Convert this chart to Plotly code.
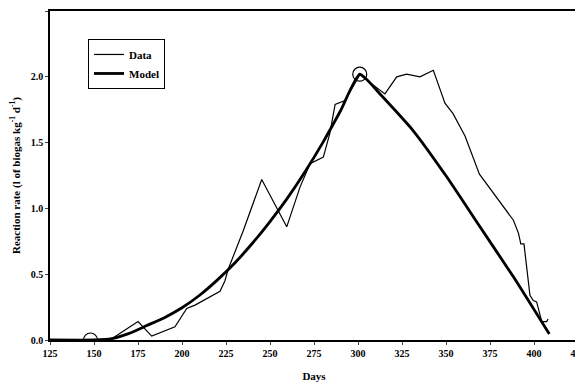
import plotly.graph_objects as go

data_days = [125, 159, 175, 182.8, 196, 202.7, 207.4, 221.6, 224.4, 226.3, 234.8, 245.3, 259.5, 267,
             272.7, 280.3, 284, 287, 292.6, 301, 315.3, 322, 327.6, 335.2, 342.8, 349.4, 354, 360.8,
             369, 388.3, 391.2, 392.5, 394.3, 397.7, 399.6, 401.5, 404.4, 407.2, 408]
data_rate = [0.0, 0.0, 0.14, 0.03, 0.10, 0.24, 0.265, 0.37, 0.45, 0.54, 0.83, 1.22, 0.86, 1.16,
             1.34, 1.39, 1.57, 1.79, 1.82, 2.015, 1.87, 2.0, 2.02, 2.0, 2.05, 1.80, 1.72, 1.55,
             1.26, 0.91, 0.81, 0.73, 0.73, 0.34, 0.30, 0.29, 0.14, 0.14, 0.16]

model_days = [125, 150, 160, 170, 180, 190, 200, 210, 220, 230, 240, 250, 260, 270, 280, 290, 301,
              312.5, 331.4, 350.4, 369.3, 388.3, 408.7]
model_rate = [0.0, 0.0, 0.01, 0.05, 0.11, 0.17, 0.245, 0.34, 0.455, 0.585, 0.735, 0.90, 1.08, 1.28, 1.50,
              1.74, 2.02, 1.87, 1.59, 1.24, 0.86, 0.48, 0.045]

circle_days = [148, 301]
circle_rate = [0.0, 2.02]

x_ticks = [125, 150, 175, 200, 225, 250, 275, 300, 325, 350, 375, 400, 425]
y_ticks = [0.0, 0.5, 1.0, 1.5, 2.0, 2.5]

font_family = "Liberation Serif"

fig = go.Figure()
fig.add_trace(go.Scatter(x=data_days, y=data_rate, mode="lines", name="Data",
                         line=dict(color="black", width=1.2)))
fig.add_trace(go.Scatter(x=model_days, y=model_rate, mode="lines", name="Model",
                         line=dict(color="black", width=2.8, shape="spline", smoothing=0.5)))
fig.add_trace(go.Scatter(x=circle_days, y=circle_rate, mode="markers", showlegend=False,
                         marker=dict(symbol="circle-open", size=14, color="black",
                                     line=dict(width=1.2, color="black"))))

fig.update_layout(
    width=583, height=385,
    margin=dict(l=42, r=13, t=3, b=53),
    paper_bgcolor="white", plot_bgcolor="white",
    font=dict(family=font_family, color="black", size=10),
    legend=dict(x=0.072, y=0.915, xanchor="left", yanchor="top",
                bordercolor="black", borderwidth=1, bgcolor="white",
                font=dict(family=font_family, size=11, color="black", weight="bold"),
                tracegroupgap=0, itemwidth=30),
)
fig.update_xaxes(range=[125, 425], tickvals=x_ticks,
                 ticktext=[f"<b>{v}</b>" for v in x_ticks],
                 showgrid=False, zeroline=False, showline=True, linecolor="black",
                 linewidth=1.5, mirror=True, ticks="outside", ticklen=3, automargin=False,
                 title=dict(text="<b>Days</b>", font=dict(size=11, family=font_family), standoff=15))
fig.update_yaxes(range=[0, 2.5], tickvals=y_ticks,
                 ticktext=[f"<b>{v:.1f}</b>" for v in y_ticks],
                 showgrid=False, zeroline=False, showline=True, linecolor="black",
                 linewidth=1.5, mirror=True, ticks="outside", ticklen=3, automargin=False,
                 title=dict(text="<b>Reaction rate (l of biogas kg<sup>-1</sup> d<sup>-1</sup>)</b>",
                            font=dict(size=11, family=font_family), standoff=8))

fig.write_html("out.html")
